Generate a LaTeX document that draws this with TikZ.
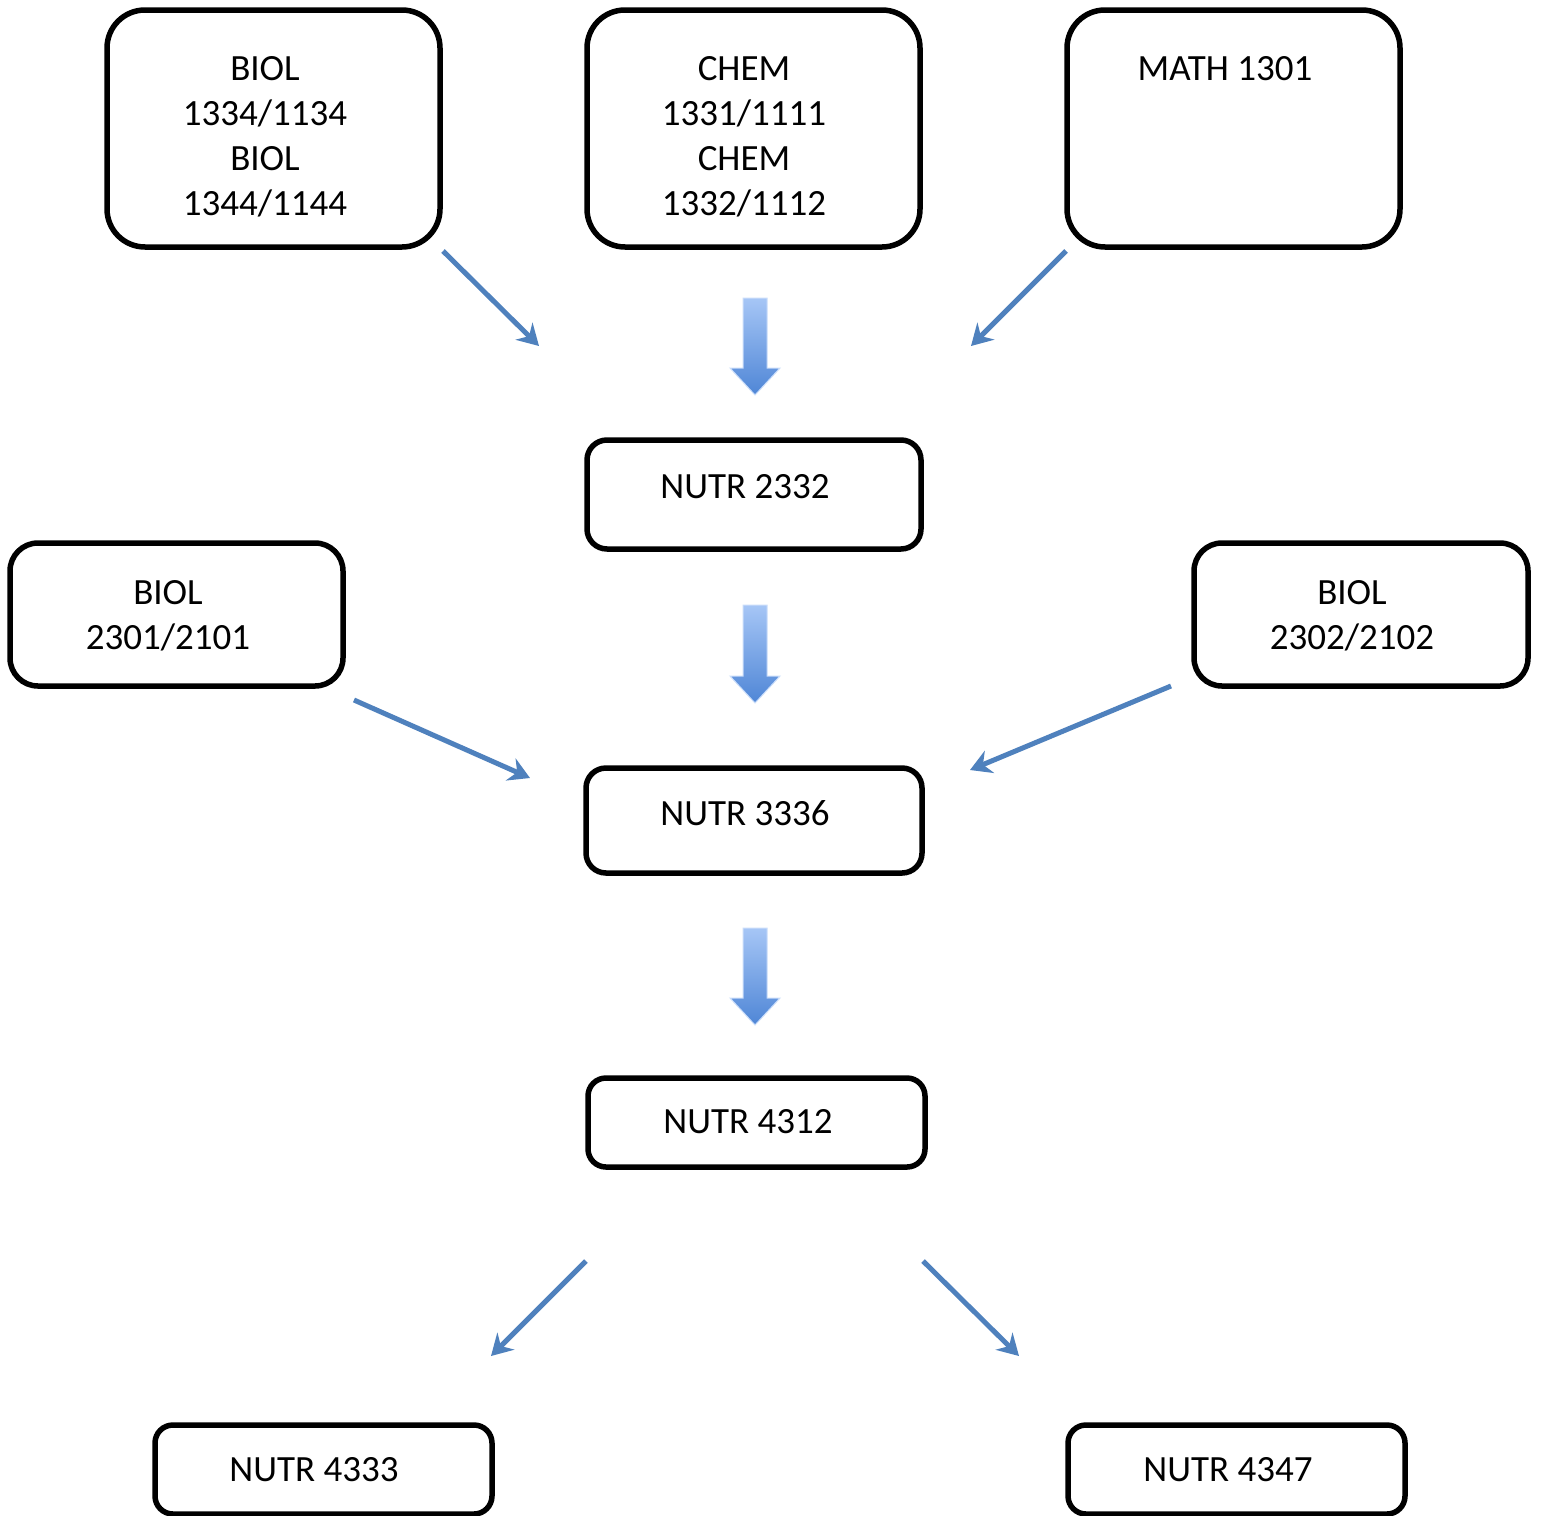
\documentclass[tikz,border=0pt]{standalone}
\usepackage{fontspec}
\setmainfont{Carlito}
\usetikzlibrary{arrows.meta}
\definecolor{arrowblue}{HTML}{4F81BD}
\definecolor{lightblue}{HTML}{A6C6F6}
\definecolor{darkblue}{HTML}{4F86D6}
\begin{document}
\begin{tikzpicture}[x=1pt,y=-1pt,
  box/.style={draw=black,line width=5.5pt,rounded corners=#1,inner sep=0pt},
  box/.default=38pt,
  lbl/.style={font=\fontsize{37}{45}\selectfont,align=center,inner sep=0pt},
  thin/.style={draw=arrowblue,line width=5pt,-{Stealth[length=21pt,width=24pt,inset=7pt]}},
  blockarrow/.style={top color=lightblue,bottom color=darkblue,draw=lightblue!60!white,line width=1pt}
]
\useasboundingbox (0,0) rectangle (1541,1515);
\fill[white] (0,0) rectangle (1541,1515);

% boxes
\draw[box] (107,10) rectangle (440,247);
\node[lbl] (t1) at (265,137) {BIOL\\1334/1134\\BIOL\\1344/1144};
\draw[box] (587,10) rectangle (920,247);
\node[lbl] (t2) at (744,137) {CHEM\\1331/1111\\CHEM\\1332/1112};
\draw[box] (1067,10) rectangle (1400,247);
\node[lbl] (t3) at (1225,69) {MATH 1301};

\draw[box=20pt] (587,440) rectangle (921,549);
\node[lbl] (n2332) at (745,487) {NUTR 2332};

\draw[box=28pt] (10,543) rectangle (343,686);
\node[lbl] (b2301) at (168,616) {BIOL\\2301/2101};
\draw[box=28pt] (1194,543) rectangle (1528,686);
\node[lbl] (b2302) at (1352,616) {BIOL\\2302/2102};

\draw[box=20pt] (586,768) rectangle (922,873);
\node[lbl] (n3336) at (745,813) {NUTR 3336};

\draw[box=18pt] (588,1078) rectangle (925,1167);
\node[lbl] (n4312) at (748,1122) {NUTR 4312};

\draw[box=18pt] (155,1425) rectangle (492,1514);
\node[lbl] (n4333) at (314,1470) {NUTR 4333};
\draw[box=18pt] (1068,1425) rectangle (1405,1514);
\node[lbl] (n4347) at (1228,1470) {NUTR 4347};

% thin arrows
\coordinate (a1s) at (443,251); \coordinate (a1e) at (539,346);
\coordinate (a2s) at (1066,251); \coordinate (a2e) at (971,346);
\coordinate (a3s) at (354,700); \coordinate (a3e) at (530,778);
\coordinate (a4s) at (1171,686); \coordinate (a4e) at (970,770);
\coordinate (a5s) at (586,1261); \coordinate (a5e) at (491,1356);
\coordinate (a6s) at (923,1261); \coordinate (a6e) at (1019,1356);
\draw[thin] (a1s) -- (a1e);
\draw[thin] (a2s) -- (a2e);
\draw[thin] (a3s) -- (a3e);
\draw[thin] (a4s) -- (a4e);
\draw[thin] (a5s) -- (a5e);
\draw[thin] (a6s) -- (a6e);

% block arrows
\foreach \t/\b in {298/395, 605/703, 928/1025}{
  \shade[blockarrow] (743,\t) -- (767,\t) -- (767,\b-27) -- (780,\b-27)
    -- (755,\b) -- (730,\b-27) -- (743,\b-27) -- cycle;
}
\end{tikzpicture}
\end{document}
